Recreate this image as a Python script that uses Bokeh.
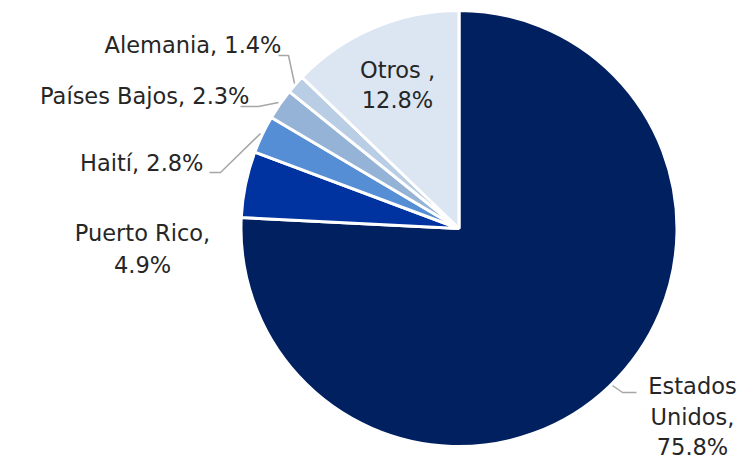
import math
from bokeh.plotting import figure
from bokeh.models import Range1d, ColumnDataSource
from bokeh.core.properties import value
from bokeh.embed import file_html
from bokeh.resources import INLINE

# ---- data ----
categories = ["Estados Unidos", "Puerto Rico", "Haití", "Países Bajos", "Alemania", "Otros "]
shares = [75.8, 4.9, 2.8, 2.3, 1.4, 12.8]
colors = ["#002060", "#0033A0", "#558ED5", "#95B3D7", "#B9CDE5", "#DCE6F2"]

# ---- layout ----
W, H = 745, 460
OX, OY = 0, 0          # page position of figure origin
cx_page, cy_page = 458.5, 228.0   # pie centre in page pixels
R = 218
FONT = "DejaVu Sans"
FS = "22.5px"
TXT = "#262626"

def px(x):  # page x -> data x
    return x - cx_page

def py(y):  # page y -> data y
    return cy_page - y

p = figure(width=W, height=H, output_backend="svg", toolbar_location=None,
           x_range=Range1d(px(OX), px(OX + W)), y_range=Range1d(py(OY + H), py(OY)),
           min_border=0)
p.axis.visible = False
p.grid.visible = False
p.outline_line_color = None
p.background_fill_color = "white"

total = sum(shares)
starts, ends = [], []
cum = 0.0
for s in shares:
    starts.append(math.pi / 2 - 2 * math.pi * cum / total)
    cum += s
    ends.append(math.pi / 2 - 2 * math.pi * cum / total)

src = ColumnDataSource(dict(start=starts, end=ends, color=colors, cat=categories, val=shares))
p.wedge(x=0, y=0, radius=R, start_angle="start", end_angle="end", direction="clock",
        fill_color="color", line_color="white", line_width=3, source=src)

def fmt(v):
    return f"{v:.1f}%"

lab = {c: v for c, v in zip(categories, shares)}
texts = [
    ("Otros ,", 397, 69, "center"),
    (fmt(lab["Otros "]), 397, 99, "center"),
    (f"Alemania, {fmt(lab['Alemania'])}", 281, 44, "right"),
    (f"Países Bajos, {fmt(lab['Países Bajos'])}", 249, 95, "right"),
    (f"Haití, {fmt(lab['Haití'])}", 203, 162, "right"),
    ("Puerto Rico,", 142, 232, "center"),
    (fmt(lab["Puerto Rico"]), 142, 264, "center"),
    ("Estados", 692, 385, "center"),
    ("Unidos,", 692, 416, "center"),
    (fmt(lab["Estados Unidos"]), 692, 446, "center"),
]
for t, x, y, a in texts:
    p.text(x=[px(x)], y=[py(y)], text=[t], text_align=a, text_baseline="middle",
           text_font=value(FONT), text_font_size=FS, text_color=TXT)

leaders = [
    [(278, 55), (288, 55), (294, 83)],
    [(240, 106), (258, 106), (278, 102)],
    [(209, 172), (220, 172), (260, 133)],
    [(612, 385), (622, 392), (636, 392)],
]
for pts in leaders:
    p.line([px(a) for a, b in pts], [py(b) for a, b in pts], line_color="#A6A6A6", line_width=1.5)

open("out.html", "w").write(file_html(p, INLINE))
